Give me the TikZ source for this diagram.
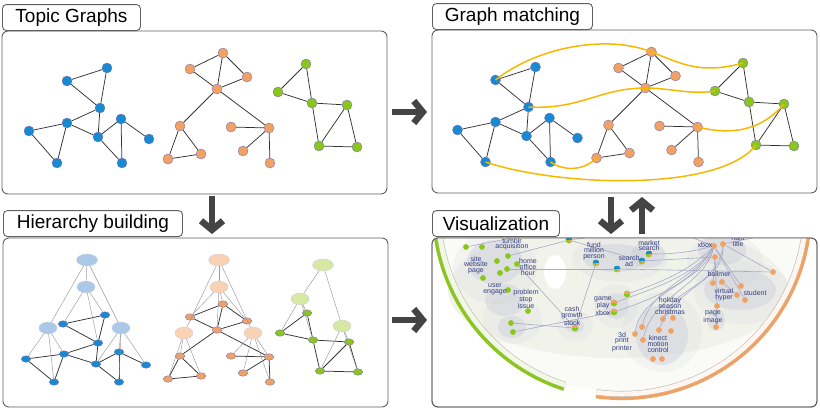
\documentclass[tikz,border=0pt]{standalone}
\usepackage{fontspec}
\setmainfont{Liberation Sans}
\usetikzlibrary{arrows.meta,shapes.geometric}
\definecolor{mblue}{RGB}{24,138,210}
\definecolor{morange}{RGB}{240,162,100}
\definecolor{mgreen}{RGB}{138,198,28}
\definecolor{mrim}{RGB}{120,110,180}
\definecolor{mline}{RGB}{96,96,96}
\definecolor{mgold}{RGB}{248,184,0}
\definecolor{mnavy}{RGB}{52,64,128}
\definecolor{mhblue}{RGB}{170,200,232}
\definecolor{mhorange}{RGB}{248,210,178}
\definecolor{mhgreen}{RGB}{214,232,164}
\definecolor{mpale}{RGB}{250,250,247}
\definecolor{mcream}{RGB}{241,242,234}
\definecolor{mblob}{RGB}{196,198,214}
\definecolor{medge}{RGB}{168,170,198}
\definecolor{marrow}{RGB}{68,68,68}

% node lists: name/x/y, edge lists: from/to
\newcommand\bluenodes{1/107/68,2/67/81,3/100/108,4/67/123,5/29/131,6/57/163,7/98/137,8/121/119,9/149/139,10/122/163}
\newcommand\blueedges{2/1,1/3,2/3,3/4,3/7,4/5,4/6,5/6,4/7,7/8,7/10,8/10,8/9}
\newcommand\orangenodes{1/223/53,2/190/69,3/247/77,4/217/89,5/180/126,6/168/159,7/201/154,8/231/127,9/269/128,10/243/151,11/270/163}
\newcommand\orangeedges{1/2,1/4,1/3,2/4,3/4,4/5,4/9,5/6,5/7,6/7,8/9,9/10,9/11}
\newcommand\greennodes{1/306/64,2/278/92,3/312/103,4/347/105,5/319/146,6/357/147}
\newcommand\greenedges{1/2,1/3,2/3,3/4,3/5,4/5,4/6,5/6}
\newcommand\hbluenodes{1/105/315,2/63/324,3/98/343,4/64/354,5/26/359,6/54/382,7/96/364,8/119/352,9/146/365,10/119/382}
\newcommand\horangenodes{1/223/304,2/190/317,3/247/321,4/217/330,5/180/356,6/168/379,7/201/376,8/231/356,9/269/357,10/243/373,11/270/382}
\newcommand\hgreennodes{1/307/313,2/280/333,3/313/340,4/349/342,5/320/371,6/358/372}

\newcommand\drawgraph[3]{%
  \foreach \n/\x/\y in #2 {\node[#1node] (#1\n) at (\x,\y) {};}
  \foreach \a/\b in #3 {\draw[gedge] (#1\a) -- (#1\b);}
}

\tikzset{
  dot/.style={circle, draw=mrim, line width=.35pt, inner sep=0pt, minimum size=10pt},
  bnode/.style={dot, fill=mblue},
  onode/.style={dot, fill=morange},
  gnode/.style={dot, fill=mgreen},
  small/.style={ellipse, draw=mrim, line width=.35pt, inner sep=0pt, minimum width=9.5pt, minimum height=6.5pt},
  hbnode/.style={small, fill=mblue},
  honode/.style={small, fill=morange},
  hgnode/.style={small, fill=mgreen},
  group/.style={ellipse, draw=mrim!35, line width=.3pt, inner sep=0pt, minimum width=18pt, minimum height=12pt},
  gedge/.style={draw=black!80, line width=.75pt},
  hedge/.style={draw=black!40, line width=.45pt},
  match/.style={draw=mgold, line width=1.5pt},
  panel/.style={draw=mline, line width=.9pt, rounded corners=6pt},
  tab/.style={draw=mline, line width=.9pt, rounded corners=4pt, fill=white, anchor=south west,
    inner sep=0pt, minimum height=26pt, font=\fontsize{19}{22}\selectfont},
  bigarrow/.style={draw=marrow, line width=6.5pt, -{Straight Barb[length=9pt, width=22pt]}},
  vdot/.style={circle, inner sep=0pt, minimum size=5.8pt},
  vgnode/.style={vdot, fill=mgreen},
  vonode/.style={vdot, fill=morange},
  tri/.style={vdot, minimum size=6.8pt, fill=mgreen, path picture={
    \fill[morange] (path picture bounding box.center) -- (path picture bounding box.south)
      -- (path picture bounding box.south east) -- (path picture bounding box.east) -- cycle;
    \fill[mblue] (path picture bounding box.north west) rectangle (path picture bounding box.east);}},
  half/.style={vdot, minimum size=6.8pt, fill=mgreen, path picture={
    \fill[morange] (path picture bounding box.north west) rectangle (path picture bounding box.east);}},
  vedge/.style={draw=medge, line width=.6pt},
  vlabel/.style={text=mnavy, align=center, inner sep=0pt, font=\fontsize{7}{5.6}\selectfont},
  blob/.style={fill=mblob, fill opacity=.35},
  haze/.style={fill=mblob, fill opacity=.12},
}

\begin{document}
\begin{tikzpicture}[x=1pt, y=-1pt]
  \useasboundingbox (0,0) rectangle (820,410);

  % panels
  \draw[panel, fill=white] (2,31) rectangle (387,194);
  \draw[panel, fill=white] (432,30) rectangle (817,193);
  \draw[panel, fill=white] (3,238) rectangle (388,407);
  \draw[panel, fill=white] (432,238) rectangle (817,407);
  \node[tab, minimum width=138pt] (tab-topic) at (2,31) {Topic Graphs};
  \node[tab, minimum width=160pt] (tab-match) at (432,30) {Graph matching};
  \node[tab, minimum width=179pt] (tab-hier) at (3,237) {Hierarchy building};

  % topic graphs
  \drawgraph{b}{\bluenodes}{\blueedges}
  \drawgraph{o}{\orangenodes}{\orangeedges}
  \drawgraph{g}{\greennodes}{\greenedges}

  % graph matching
  \begin{scope}[shift={(428.5,-1)}, name prefix=m-]
    \drawgraph{b}{\bluenodes}{\blueedges}
    \drawgraph{o}{\orangenodes}{\orangeedges}
  \end{scope}
  \begin{scope}[shift={(437,-1)}, name prefix=m-]
    \drawgraph{g}{\greennodes}{\greenedges}
  \end{scope}
  \draw[match] (m-b2.center) .. controls (540,45) and (610,35) .. (m-o1.center)
    .. controls (680,63) and (700,75) .. (m-g1.center);
  \draw[match] (m-b3.center) .. controls (580,110) and (600,88) .. (m-o4.center)
    .. controls (670,88) and (690,95) .. (m-g2.center);
  \draw[match] (m-o9.center) .. controls (730,135) and (760,132) .. (m-g4.center);
  \draw[match] (m-b10.center) .. controls (565,172) and (585,170) .. (m-o6.center);
  \draw[match] (m-b6.center) .. controls (560,187) and (720,192) .. (m-g5.center);

  % hierarchy building
  \drawgraph{hb}{\hbluenodes}{\blueedges}
  \drawgraph{ho}{\horangenodes}{\orangeedges}
  \drawgraph{hg}{\hgreennodes}{\greenedges}
  \foreach \n/\x/\y/\w in {H1/87/260/21,H2/86/287/18,H3/48/328/18,H4/121/328/18}
    {\node[group, fill=mhblue, minimum width=\w pt] (hb\n) at (\x,\y) {};}
  \foreach \n/\x/\y/\w in {H1/219/260/21,H2/219/287/18,H3/184/333/18,H4/253/333/18}
    {\node[group, fill=mhorange, minimum width=\w pt] (ho\n) at (\x,\y) {};}
  \foreach \n/\x/\y/\w in {H1/323/265/21,H2/300/299/18,H3/342/326/18}
    {\node[group, fill=mhgreen, minimum width=\w pt] (hg\n) at (\x,\y) {};}
  \foreach \a/\b in {H1/H2,H1/H3,H1/H4,H2/1,H2/2,H2/3,H3/4,H3/5,H3/6,H4/7,H4/8,H4/9,H4/10}
    {\draw[hedge] (hb\a) -- (hb\b);}
  \foreach \a/\b in {H1/H2,H1/H3,H1/H4,H2/1,H2/2,H2/3,H2/4,H3/5,H3/6,H3/7,H4/8,H4/9,H4/10,H4/11}
    {\draw[hedge] (ho\a) -- (ho\b);}
  \foreach \a/\b in {H1/H2,H1/H3,H2/1,H2/2,H2/3,H3/4,H3/5,H3/6}
    {\draw[hedge] (hg\a) -- (hg\b);}

  % visualization
  \begin{scope}
    \clip[rounded corners=6pt] (432,238) rectangle (817,407);
    \coordinate (vc) at (622,210);
    \fill[mpale] (vc) circle[radius=182];
    \fill[mcream] (618,290) ellipse[x radius=170, y radius=68];
    \fill[white] (555,272) ellipse[x radius=11, y radius=17];
    \foreach \x/\y/\rx/\ry in {495/268/42/36,512/320/30/24,620/258/48/24,725/262/38/28,
        742/292/48/32,662/332/40/40,575/326/18/15,616/306/22/22}
      {\fill[haze] (\x,\y) ellipse[x radius=\rx, y radius=\ry];}
    \foreach \x/\y/\rx/\ry in {495/262/28/22,505/300/20/16,512/327/14/11,615/258/32/14,
        648/255/17/13,722/250/24/15,740/290/36/20,662/335/26/30,575/326/9/7,616/306/13/13,716/320/9/11}
      {\fill[blob] (\x,\y) ellipse[x radius=\rx, y radius=\ry];}
    % nodes
    \foreach \x/\y [count=\i] in {466/247,482/247,508/256,497/261,517/264,500/273,507/269,
        483/278,508/290,528/311,511/323,513/332}
      {\node[vgnode] (vg\i) at (\x,\y) {};}
    \foreach \x/\y [count=\i] in {714/246,723/244,715/257,773/272,713/283,722/282,741/286,
        737/295,745/300,717/306,716/327,663/319,673/318,659/330,671/331,642/327,635/334,
        643/340,653/359,662/359}
      {\node[vonode] (vo\i) at (\x,\y) {};}
    \foreach \x/\y [count=\i] in {569/240,596/263,617/269,642/261,649/254}
      {\node[tri] (vp\i) at (\x,\y) {};}
    \foreach \x/\y [count=\i from 6] in {575/328,627/294,614/303,614/312}
      {\node[half] (vp\i) at (\x,\y) {};}
    \coordinate (vt1) at (522,236); \coordinate (vt2) at (688,236);
    \coordinate (vt3) at (762,236); \coordinate (vt4) at (600,236);
    % connectors
    \foreach \a/\b in {vg3/vp1,vg7/vp3,vp3/vo4,vp2/vp6,vg5/vp6,vg11/vp6,vg12/vp9,
        vp1/vp4,vp4/vo3,vo1/vo7,vo1/vo9,vo2/vo4,vo3/vo10,vo10/vo11,vo6/vo8,vo3/vo5,
        vg1/vt1,vo1/vt2,vo2/vt3,vp1/vt4}
      {\draw[vedge] (\a) -- (\b);}
    \draw[vedge] (vp7) .. controls +(35,-12) and +(-25,25) .. (vo1);
    \draw[vedge] (vp8) .. controls +(40,-15) and +(-20,30) .. (vo1);
    \draw[vedge] (vp9) .. controls +(45,-15) and +(-20,35) .. (vo1);
    \draw[vedge] (vo16) .. controls +(10,-40) and +(-15,30) .. (vo1);
    \draw[vedge] (vo17) .. controls +(5,-40) and +(-10,35) .. (vo1);
    \draw[vedge] (vo18) .. controls +(10,-45) and +(-10,40) .. (vo1);
    \draw[vedge] (vo14) .. controls +(15,-40) and +(-5,40) .. (vo2);
    \draw[vedge] (vo12) .. controls +(15,-35) and +(0,40) .. (vo2);
    \draw[vedge] (vp5) .. controls +(30,0) and +(-20,5) .. (vo1);
    % labels
    \foreach \x/\y/\t [count=\i] in {512/244/{tumblr\\acquisition},476/265/{site\\website\\page},
        528/267/{home\\office\\hour},495/289.5/{user\\engage},526/299/{problem\\stop\\issue},
        572/316/{cash\\growth\\stock},594/251/{fund\\million\\person},649/245.5/{market\\search},
        629/261/{search\\ad},705/245/{xbox},738/241/{halo\\title},719/274/{ballmer},
        724/294.5/{virtual\\hyper},755/293/{student},603/306/{game\\play\\xbox},
        670/306/{holiday\\season\\christmas},713/317.5/{page\\image},622/342/{3d\\print\\printer},
        658/344/{kinect\\motion\\control}}
      {\node[vlabel] (vl\i) at (\x,\y) {\t};}
    % rings
    \draw[line width=6pt, draw=black!30] ([shift={(172:184)}]vc) arc[start angle=172, end angle=108, radius=184];
    \draw[line width=5pt, draw=mgreen!12] ([shift={(172:184)}]vc) arc[start angle=172, end angle=108, radius=184];
    \draw[line width=3.2pt, draw=mgreen] ([shift={(172:188.5)}]vc) arc[start angle=172, end angle=108, radius=188.5];
    \draw[line width=6pt, draw=black!30] ([shift={(98:184)}]vc) arc[start angle=98, end angle=0, radius=184];
    \draw[line width=5pt, draw=morange!10] ([shift={(98:184)}]vc) arc[start angle=98, end angle=0, radius=184];
    \draw[line width=3.2pt, draw=morange] ([shift={(98:188.5)}]vc) arc[start angle=98, end angle=0, radius=188.5];
  \end{scope}
  \draw[panel] (432,238) rectangle (817,407);
  \node[tab, minimum width=127pt] (tab-vis) at (432,237) {Visualization};

  % arrows between panels
  \coordinate (a1s) at (392,112); \coordinate (a1e) at (427,112);
  \coordinate (a2s) at (212,196); \coordinate (a2e) at (212,234);
  \coordinate (a3s) at (392,320); \coordinate (a3e) at (427,320);
  \coordinate (a4s) at (611,197); \coordinate (a4e) at (611,234);
  \coordinate (a5s) at (642,234); \coordinate (a5e) at (642,197);
  \foreach \i in {1,...,5} {\draw[bigarrow] (a\i s) -- (a\i e);}
\end{tikzpicture}
\end{document}
